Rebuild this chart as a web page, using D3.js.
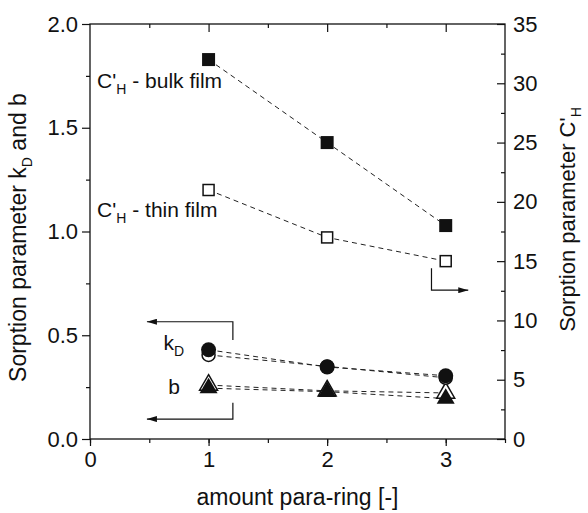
<!DOCTYPE html>
<html>
<head>
<meta charset="utf-8">
<script src="https://cdn.jsdelivr.net/npm/d3@7"></script>
<style>
body { margin: 0; background: #fff; }
text { font-family: Arial, "Liberation Sans", sans-serif; fill: #111; }
</style>
</head>
<body>
<div></div>
<script>
var width = 588;
var height = 513;

// data
var paraRing = [1, 2, 3];
var chBulk = [32, 25, 18];
var chThin = [21, 17, 15];
var kdFilled = [0.43, 0.347, 0.305];
var kdOpen = [0.405, 0.35, 0.295];
var bFilled = [0.245, 0.228, 0.195];
var bOpen = [0.26, 0.232, 0.222];

var xTicks = [0, 1, 2, 3];
var leftTicks = [0, 0.5, 1.0, 1.5, 2.0];
var rightTicks = [0, 5, 10, 15, 20, 25, 30, 35];

var fs = 22;
var pl = 90, pr = 505, pt = 24, pb = 439;

var svg = d3.select("div")
	.append("svg")
	.attr("width", width)
	.attr("height", height);

var x = d3.scaleLinear().domain([0, 3.5]).range([pl, pr]);
var yL = d3.scaleLinear().domain([0, 2]).range([pb, pt]);
var yR = d3.scaleLinear().domain([0, 35]).range([pb, pt]);

// frame
svg.append("rect")
	.attr("x", pl).attr("y", pt)
	.attr("width", pr - pl).attr("height", pb - pt)
	.attr("fill", "none").attr("stroke", "#111").attr("stroke-width", 1.3);

var styleAxis = g => {
	g.select(".domain").remove();
	g.selectAll("line").attr("stroke", "#111").attr("stroke-width", 1.2);
	g.selectAll("text").attr("font-size", fs).attr("fill", "#111")
		.attr("font-family", "Arial, 'Liberation Sans', sans-serif");
};

// bottom axis: outward ticks
svg.append("g").attr("transform", "translate(0," + pb + ")")
	.call(d3.axisBottom(x).tickValues(d3.range(0, 3.51, 0.5)).tickSize(4).tickFormat(""))
	.call(styleAxis);
svg.append("g").attr("transform", "translate(0," + pb + ")")
	.call(d3.axisBottom(x).tickValues(xTicks).tickSize(7).tickPadding(5).tickFormat(d3.format("d")))
	.call(styleAxis);

// top axis: inward ticks
svg.append("g").attr("transform", "translate(0," + pt + ")")
	.call(d3.axisBottom(x).tickValues([0.5, 1.5, 2.5]).tickSize(4).tickFormat(""))
	.call(styleAxis);
svg.append("g").attr("transform", "translate(0," + pt + ")")
	.call(d3.axisBottom(x).tickValues([1, 2, 3]).tickSize(8).tickFormat(""))
	.call(styleAxis);

// left axis: outward ticks
svg.append("g").attr("transform", "translate(" + pl + ",0)")
	.call(d3.axisLeft(yL).tickValues(d3.range(0.25, 2, 0.5)).tickSize(4).tickFormat(""))
	.call(styleAxis);
svg.append("g").attr("transform", "translate(" + pl + ",0)")
	.call(d3.axisLeft(yL).tickValues(leftTicks).tickSize(8).tickPadding(4).tickFormat(d3.format(".1f")))
	.call(styleAxis);

// right axis: inward ticks, labels outside
svg.append("g").attr("transform", "translate(" + pr + ",0)")
	.call(d3.axisLeft(yR).tickValues(d3.range(2.5, 35, 5)).tickSize(4).tickFormat(""))
	.call(styleAxis);
svg.append("g").attr("transform", "translate(" + pr + ",0)")
	.call(d3.axisLeft(yR).tickValues(rightTicks).tickSize(8).tickFormat(""))
	.call(styleAxis);
svg.append("g").attr("transform", "translate(" + pr + ",0)")
	.call(d3.axisRight(yR).tickValues(rightTicks).tickSize(0).tickPadding(8))
	.call(styleAxis);

// axis titles
svg.append("text")
	.attr("x", (pl + pr) / 2).attr("y", 505)
	.attr("text-anchor", "middle").attr("font-size", 23)
	.text("amount para-ring [-]");

var yl = svg.append("text")
	.attr("transform", "translate(26," + ((pt + pb) / 2 + 6) + ") rotate(-90)")
	.attr("text-anchor", "middle").attr("font-size", 23);
yl.append("tspan").text("Sorption parameter k");
yl.append("tspan").attr("font-size", 14).attr("dy", 6).text("D");
yl.append("tspan").attr("dy", -6).text(" and b");

var yr = svg.append("text")
	.attr("transform", "translate(575," + ((pt + pb) / 2 - 12) + ") rotate(-90)")
	.attr("text-anchor", "middle").attr("font-size", 22);
yr.append("tspan").text("Sorption parameter C'");
yr.append("tspan").attr("font-size", 14).attr("dy", 6).text("H");

// dashed connecting lines
var series = [
	{ v: chBulk, y: yR },
	{ v: chThin, y: yR },
	{ v: kdOpen, y: yL },
	{ v: kdFilled, y: yL },
	{ v: bOpen, y: yL },
	{ v: bFilled, y: yL }
];
series.forEach(s => {
	var line = d3.line().x((d, i) => x(paraRing[i])).y(d => s.y(d));
	svg.append("path")
		.attr("d", line(s.v))
		.attr("fill", "none").attr("stroke", "#222")
		.attr("stroke-width", 1).attr("stroke-dasharray", "5,4");
});

// markers
var sq = 13;
svg.append("g").selectAll("rect").data(chBulk).enter().append("rect")
	.attr("x", (d, i) => x(paraRing[i]) - sq / 2).attr("y", d => yR(d) - sq / 2)
	.attr("width", sq).attr("height", sq).attr("fill", "#111");
svg.append("g").selectAll("rect").data(chThin).enter().append("rect")
	.attr("x", (d, i) => x(paraRing[i]) - 5.5).attr("y", d => yR(d) - 5.5)
	.attr("width", 11).attr("height", 11).attr("fill", "#fff")
	.attr("stroke", "#111").attr("stroke-width", 1.5);

var tri = d3.symbol().type(d3.symbolTriangle).size(140);
svg.append("g").selectAll("path").data(bOpen).enter().append("path")
	.attr("transform", (d, i) => "translate(" + x(paraRing[i]) + "," + yL(d) + ")")
	.attr("d", tri).attr("fill", "#fff").attr("stroke", "#111").attr("stroke-width", 1.5);
svg.append("g").selectAll("path").data(bFilled).enter().append("path")
	.attr("transform", (d, i) => "translate(" + x(paraRing[i]) + "," + yL(d) + ")")
	.attr("d", tri).attr("fill", "#111");

svg.append("g").selectAll("circle").data(kdOpen).enter().append("circle")
	.attr("cx", (d, i) => x(paraRing[i])).attr("cy", d => yL(d))
	.attr("r", 6.5).attr("fill", "#fff").attr("stroke", "#111").attr("stroke-width", 1.5);
svg.append("g").selectAll("circle").data(kdFilled).enter().append("circle")
	.attr("cx", (d, i) => x(paraRing[i])).attr("cy", d => yL(d))
	.attr("r", 7.5).attr("fill", "#111");

// series labels
var lab = (xv, yv, main, sub, rest) => {
	var t = svg.append("text").attr("x", xv).attr("y", yv).attr("font-size", 21);
	t.append("tspan").text(main);
	t.append("tspan").attr("font-size", 14).attr("dy", 6).text(sub);
	if (rest) t.append("tspan").attr("dy", -6).text(rest);
};
lab(x(0.06), yR(29.6), "C'", "H", " - bulk film");
lab(x(0.06), yR(18.7), "C'", "H", " - thin film");
lab(x(0.62), yL(0.43), "k", "D", null);
svg.append("text").attr("x", x(0.66)).attr("y", yL(0.215)).attr("font-size", 21).text("b");

// arrows pointing to the axes
svg.append("defs").append("marker")
	.attr("id", "ah").attr("viewBox", "0 0 10 6")
	.attr("refX", 10).attr("refY", 3)
	.attr("markerWidth", 12).attr("markerHeight", 6)
	.attr("markerUnits", "userSpaceOnUse")
	.attr("orient", "auto")
	.append("path").attr("d", "M0,0L10,3L0,6Z").attr("fill", "#111");

var arrow = pts => {
	svg.append("path")
		.attr("d", d3.line()(pts))
		.attr("fill", "none").attr("stroke", "#111").attr("stroke-width", 1.2)
		.attr("marker-end", "url(#ah)");
};
arrow([[x(1.205), yL(0.477)], [x(1.205), yL(0.565)], [x(0.48), yL(0.565)]]);
arrow([[x(1.205), yL(0.175)], [x(1.205), yL(0.096)], [x(0.48), yL(0.096)]]);
arrow([[x(2.88), yR(14.4)], [x(2.88), yR(12.55)], [x(3.19), yR(12.55)]]);
</script>
</body>
</html>
